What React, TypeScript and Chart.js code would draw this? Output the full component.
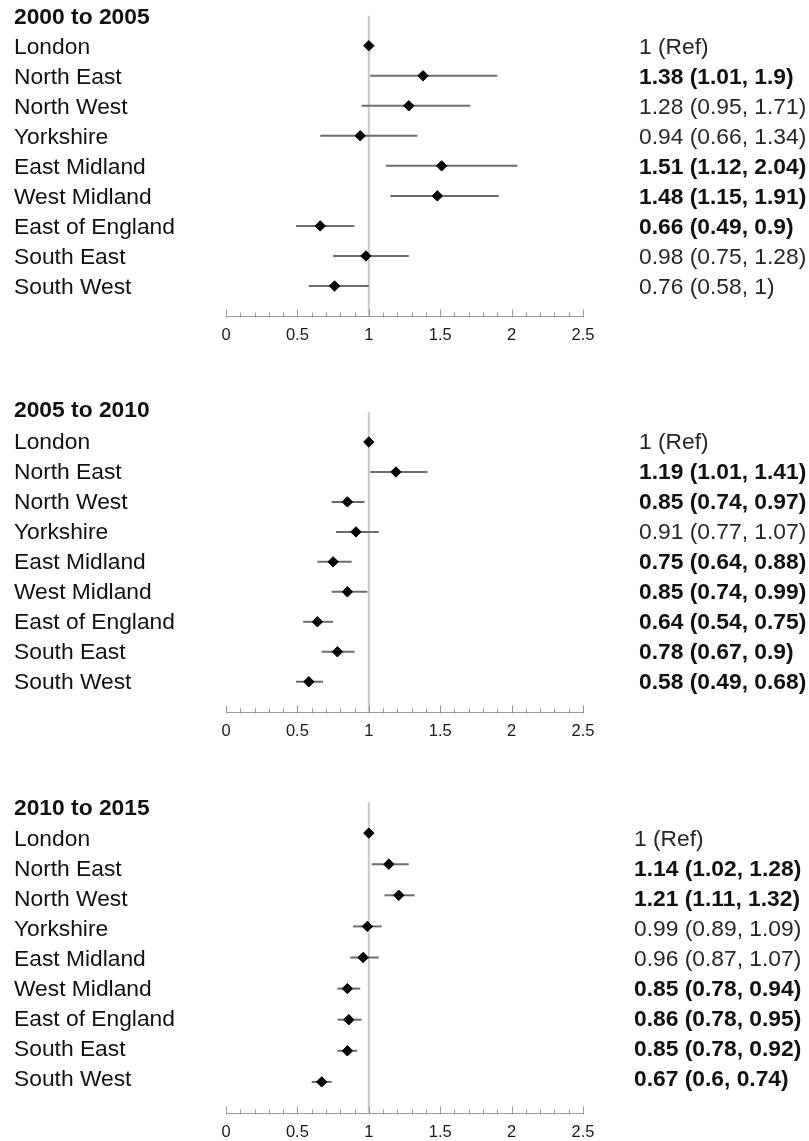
import React, { useEffect, useRef } from 'react';
import { Chart, registerables } from 'chart.js';

Chart.register(...registerables);

// ---------- data ----------
const regions = [
  'London',
  'North East',
  'North West',
  'Yorkshire',
  'East Midland',
  'West Midland',
  'East of England',
  'South East',
  'South West',
];

const periods = ['2000 to 2005', '2005 to 2010', '2010 to 2015'];

const or2000 = [1, 1.38, 1.28, 0.94, 1.51, 1.48, 0.66, 0.98, 0.76];
const lo2000 = [1, 1.01, 0.95, 0.66, 1.12, 1.15, 0.49, 0.75, 0.58];
const hi2000 = [1, 1.9, 1.71, 1.34, 2.04, 1.91, 0.9, 1.28, 1];
const bold2000 = [false, true, false, false, true, true, true, false, false];

const or2005 = [1, 1.19, 0.85, 0.91, 0.75, 0.85, 0.64, 0.78, 0.58];
const lo2005 = [1, 1.01, 0.74, 0.77, 0.64, 0.74, 0.54, 0.67, 0.49];
const hi2005 = [1, 1.41, 0.97, 1.07, 0.88, 0.99, 0.75, 0.9, 0.68];
const bold2005 = [false, true, true, false, true, true, true, true, true];

const or2010 = [1, 1.14, 1.21, 0.99, 0.96, 0.85, 0.86, 0.85, 0.67];
const lo2010 = [1, 1.02, 1.11, 0.89, 0.87, 0.78, 0.78, 0.78, 0.6];
const hi2010 = [1, 1.28, 1.32, 1.09, 1.07, 0.94, 0.95, 0.92, 0.74];
const bold2010 = [false, true, true, false, false, true, true, true, true];

const xTickLabels = [0, 0.5, 1, 1.5, 2, 2.5];
const refLabel = '1 (Ref)';

const ors = [or2000, or2005, or2010];
const los = [lo2000, lo2005, lo2010];
const his = [hi2000, hi2005, hi2010];
const bolds = [bold2000, bold2005, bold2010];

// ---------- layout ----------
const FONT = '"Liberation Sans", Arial, Helvetica, sans-serif';
const W = 809;
const TEXT_PX = 22.8;

type PanelLayout = {
  top: number;
  height: number;
  padTop: number;
  padBottom: number;
  titleDy: number;
  labelDy: number;
  labelDs: number;
  rightX: number;
};

const layouts: PanelLayout[] = [
  { top: 0, height: 380, padTop: 15.7, padBottom: 64, titleDy: 2, labelDy: 2, labelDs: 0, rightX: 639 },
  { top: 380, height: 395, padTop: 32, padBottom: 63.3, titleDy: -1, labelDy: 0.5, labelDs: 0, rightX: 639 },
  { top: 775, height: 366, padTop: 27, padBottom: 28, titleDy: 6.5, labelDy: 2.5, labelDs: -1.1, rightX: 634 },
];

function Panel({ idx }: { idx: number }) {
  const ref = useRef<HTMLCanvasElement>(null);

  useEffect(() => {
    const canvas = ref.current;
    if (!canvas) return;
    const L = layouts[idx];
    const or = ors[idx];
    const lo = los[idx];
    const hi = his[idx];
    const bold = bolds[idx];
    const nRows = regions.length;

    const datasets: any[] = [];
    datasets.push({
      label: 'OR',
      data: or.map((v, i) => ({ x: v, y: i })),
      pointStyle: 'rectRot',
      pointRadius: 5.2,
      pointBackgroundColor: '#000',
      pointBorderColor: '#000',
      pointBorderWidth: 1,
      showLine: false,
      order: 0,
      clip: false,
    });
    or.forEach((_, i) => {
      if (hi[i] > lo[i]) {
        datasets.push({
          label: 'CI ' + regions[i],
          data: [
            { x: lo[i], y: i },
            { x: hi[i], y: i },
          ],
          showLine: true,
          borderColor: '#6c6c6c',
          borderWidth: 2,
          pointRadius: 0,
          order: 1,
          clip: false,
        });
      }
    });
    datasets.push({
      label: 'ref',
      data: [
        { x: 1, y: -1 },
        { x: 1, y: nRows },
      ],
      showLine: true,
      borderColor: '#c8c8c8',
      borderWidth: 2,
      pointRadius: 0,
      order: 2,
      clip: false,
    });

    const decor = {
      id: 'forestDecor',
      afterDraw(chart: any) {
        const ctx = chart.ctx as CanvasRenderingContext2D;
        const xs = chart.scales.x;
        const ys = chart.scales.y;
        const ay = Math.round(ys.getPixelForValue(nRows));
        ctx.save();
        // axis line + ticks
        ctx.strokeStyle = '#9a9a9a';
        ctx.lineWidth = 1;
        ctx.beginPath();
        ctx.moveTo(xs.getPixelForValue(0), ay + 0.5);
        ctx.lineTo(xs.getPixelForValue(2.5), ay + 0.5);
        ctx.stroke();
        for (let k = 0; k <= 25; k++) {
          const px = Math.round(xs.getPixelForValue(k / 10)) + 0.5;
          const len = k % 5 === 0 ? 6.5 : 3.5;
          ctx.beginPath();
          ctx.moveTo(px, ay + 1.5);
          ctx.lineTo(px, ay - len);
          ctx.stroke();
        }
        // tick labels
        ctx.fillStyle = '#1a1a1a';
        ctx.font = `16.5px ${FONT}`;
        ctx.textAlign = 'center';
        ctx.textBaseline = 'middle';
        xTickLabels.forEach((v) => {
          ctx.fillText(String(v), xs.getPixelForValue(v), ay + 19);
        });
        // title
        ctx.textAlign = 'left';
        ctx.fillStyle = '#111';
        ctx.font = `bold ${TEXT_PX}px ${FONT}`;
        ctx.fillText(periods[idx], 14, ys.getPixelForValue(-1) + L.titleDy);
        // row labels
        regions.forEach((r, i) => {
          const ty = ys.getPixelForValue(i) + L.labelDy + (i - 4) * L.labelDs;
          ctx.font = `${TEXT_PX}px ${FONT}`;
          ctx.fillStyle = '#111';
          ctx.fillText(r, 14, ty);
          const txt = i === 0 ? refLabel : `${or[i]} (${lo[i]}, ${hi[i]})`;
          ctx.font = `${bold[i] ? 'bold ' : ''}${TEXT_PX}px ${FONT}`;
          ctx.fillStyle = bold[i] ? '#111' : '#262626';
          ctx.fillText(txt, L.rightX, ty);
        });
        ctx.restore();
      },
    };

    const chart = new Chart(canvas, {
      type: 'scatter',
      data: { datasets },
      options: {
        responsive: false,
        animation: false,
        events: [],
        layout: {
          padding: { left: 226, right: 226, top: L.padTop, bottom: L.padBottom },
        },
        plugins: {
          legend: { display: false },
          tooltip: { enabled: false },
        },
        scales: {
          x: { type: 'linear', min: 0, max: 2.5, display: false },
          y: { type: 'linear', min: -1, max: nRows, reverse: true, display: false },
        },
      },
      plugins: [decor],
    } as any);

    return () => chart.destroy();
  }, [idx]);

  const L = layouts[idx];
  return (
    <canvas
      ref={ref}
      width={W}
      height={L.height}
      style={{ position: 'absolute', left: 0, top: L.top, width: W, height: L.height, display: 'block' }}
    />
  );
}

export default function App() {
  return (
    <div style={{ position: 'absolute', left: 0, top: 0, width: W, height: 1141, background: '#fff' }}>
      <Panel idx={0} />
      <Panel idx={1} />
      <Panel idx={2} />
    </div>
  );
}
